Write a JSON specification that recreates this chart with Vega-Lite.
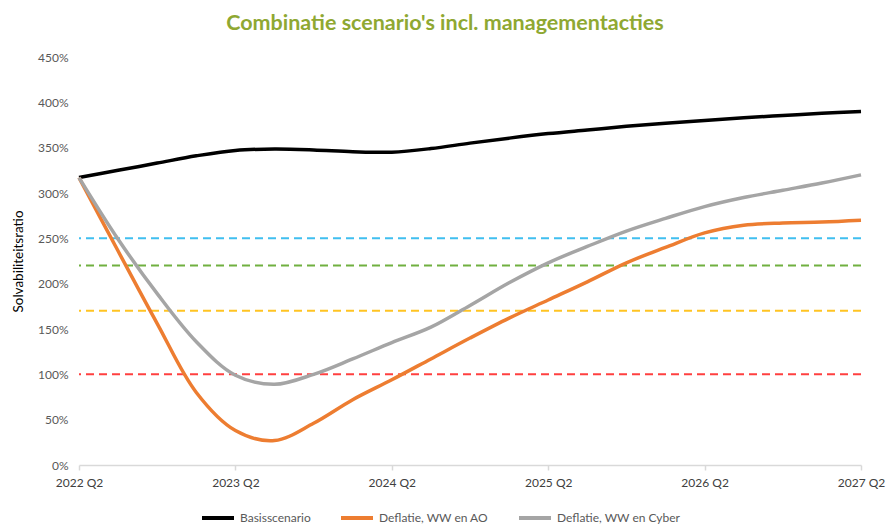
{
  "$schema": "https://vega.github.io/schema/vega-lite/v6.json",
  "width": 782,
  "height": 408,
  "autosize": {"type": "none"},
  "padding": {"left": 79, "top": 57, "right": 26, "bottom": 59},
  "background": "#ffffff",
  "config": {"view": {"stroke": null}, "font": "Lato"},
  "title": {
    "text": "Combinatie scenario's incl. managementacties",
    "font": "Lato",
    "fontSize": 21.5,
    "fontWeight": "bold",
    "color": "#8FA832",
    "anchor": "middle",
    "dx": -25,
    "offset": 17
  },
  "datasets": {
    "series": [
      {"q": 0, "serie": "Basisscenario", "ratio": 317},
      {"q": 1, "serie": "Basisscenario", "ratio": 325},
      {"q": 2, "serie": "Basisscenario", "ratio": 333},
      {"q": 3, "serie": "Basisscenario", "ratio": 341},
      {"q": 4, "serie": "Basisscenario", "ratio": 347},
      {"q": 5, "serie": "Basisscenario", "ratio": 348.5},
      {"q": 6, "serie": "Basisscenario", "ratio": 347.5},
      {"q": 7, "serie": "Basisscenario", "ratio": 345.5},
      {"q": 8, "serie": "Basisscenario", "ratio": 345},
      {"q": 9, "serie": "Basisscenario", "ratio": 349},
      {"q": 10, "serie": "Basisscenario", "ratio": 355},
      {"q": 11, "serie": "Basisscenario", "ratio": 360.5},
      {"q": 12, "serie": "Basisscenario", "ratio": 365.5},
      {"q": 13, "serie": "Basisscenario", "ratio": 369.5},
      {"q": 14, "serie": "Basisscenario", "ratio": 373.5},
      {"q": 15, "serie": "Basisscenario", "ratio": 377},
      {"q": 16, "serie": "Basisscenario", "ratio": 380},
      {"q": 17, "serie": "Basisscenario", "ratio": 383},
      {"q": 18, "serie": "Basisscenario", "ratio": 385.5},
      {"q": 19, "serie": "Basisscenario", "ratio": 388},
      {"q": 20, "serie": "Basisscenario", "ratio": 390},
      {"q": 0, "serie": "Deflatie, WW en AO", "ratio": 317},
      {"q": 1, "serie": "Deflatie, WW en AO", "ratio": 236},
      {"q": 2, "serie": "Deflatie, WW en AO", "ratio": 156},
      {"q": 3, "serie": "Deflatie, WW en AO", "ratio": 80},
      {"q": 4, "serie": "Deflatie, WW en AO", "ratio": 38},
      {"q": 5, "serie": "Deflatie, WW en AO", "ratio": 27},
      {"q": 6, "serie": "Deflatie, WW en AO", "ratio": 46},
      {"q": 7, "serie": "Deflatie, WW en AO", "ratio": 72},
      {"q": 8, "serie": "Deflatie, WW en AO", "ratio": 94},
      {"q": 9, "serie": "Deflatie, WW en AO", "ratio": 117},
      {"q": 10, "serie": "Deflatie, WW en AO", "ratio": 140},
      {"q": 11, "serie": "Deflatie, WW en AO", "ratio": 162},
      {"q": 12, "serie": "Deflatie, WW en AO", "ratio": 182},
      {"q": 13, "serie": "Deflatie, WW en AO", "ratio": 202},
      {"q": 14, "serie": "Deflatie, WW en AO", "ratio": 223},
      {"q": 15, "serie": "Deflatie, WW en AO", "ratio": 240},
      {"q": 16, "serie": "Deflatie, WW en AO", "ratio": 256},
      {"q": 17, "serie": "Deflatie, WW en AO", "ratio": 264.5},
      {"q": 18, "serie": "Deflatie, WW en AO", "ratio": 267},
      {"q": 19, "serie": "Deflatie, WW en AO", "ratio": 268},
      {"q": 20, "serie": "Deflatie, WW en AO", "ratio": 270},
      {"q": 0, "serie": "Deflatie, WW en Cyber", "ratio": 317},
      {"q": 1, "serie": "Deflatie, WW en Cyber", "ratio": 249},
      {"q": 2, "serie": "Deflatie, WW en Cyber", "ratio": 189},
      {"q": 3, "serie": "Deflatie, WW en Cyber", "ratio": 136},
      {"q": 4, "serie": "Deflatie, WW en Cyber", "ratio": 99},
      {"q": 5, "serie": "Deflatie, WW en Cyber", "ratio": 89},
      {"q": 6, "serie": "Deflatie, WW en Cyber", "ratio": 100},
      {"q": 7, "serie": "Deflatie, WW en Cyber", "ratio": 117},
      {"q": 8, "serie": "Deflatie, WW en Cyber", "ratio": 135},
      {"q": 9, "serie": "Deflatie, WW en Cyber", "ratio": 152},
      {"q": 10, "serie": "Deflatie, WW en Cyber", "ratio": 176},
      {"q": 11, "serie": "Deflatie, WW en Cyber", "ratio": 201},
      {"q": 12, "serie": "Deflatie, WW en Cyber", "ratio": 223},
      {"q": 13, "serie": "Deflatie, WW en Cyber", "ratio": 241},
      {"q": 14, "serie": "Deflatie, WW en Cyber", "ratio": 258},
      {"q": 15, "serie": "Deflatie, WW en Cyber", "ratio": 272},
      {"q": 16, "serie": "Deflatie, WW en Cyber", "ratio": 285},
      {"q": 17, "serie": "Deflatie, WW en Cyber", "ratio": 295},
      {"q": 18, "serie": "Deflatie, WW en Cyber", "ratio": 303},
      {"q": 19, "serie": "Deflatie, WW en Cyber", "ratio": 311},
      {"q": 20, "serie": "Deflatie, WW en Cyber", "ratio": 320}
    ],
    "drempels": [
      {"ratio": 250},
      {"ratio": 220},
      {"ratio": 170},
      {"ratio": 100}
    ]
  },
  "layer": [
    {
      "data": {"name": "drempels"},
      "mark": {"type": "rule", "strokeDash": [8, 5], "strokeWidth": 2},
      "encoding": {
        "y": {
          "field": "ratio",
          "type": "quantitative",
          "scale": {"domain": [0, 450], "nice": false},
          "axis": {
            "title": "Solvabiliteitsratio",
            "values": [0, 50, 100, 150, 200, 250, 300, 350, 400, 450],
            "labelExpr": "datum.value + '%'",
            "domain": false,
            "ticks": false,
            "grid": false,
            "labelFont": "Lato",
            "labelFontSize": 12,
            "labelColor": "#595959",
            "labelPadding": 11,
            "titleFont": "Lato",
            "titleFontSize": 13.5,
            "titleFontWeight": "normal",
            "titleColor": "#000000",
            "titlePadding": 12
          }
        },
        "stroke": {
          "field": "ratio",
          "type": "nominal",
          "scale": {
            "domain": [100, 170, 220, 250],
            "range": ["#FF4040", "#FFC423", "#70B040", "#40BFF0"]
          },
          "legend": null
        }
      }
    },
    {
      "data": {"name": "series"},
      "mark": {"type": "line", "interpolate": "catmull-rom", "strokeWidth": 3.5},
      "encoding": {
        "x": {
          "field": "q",
          "type": "quantitative",
          "scale": {"domain": [0, 20], "nice": false},
          "axis": {
            "title": null,
            "values": [0, 4, 8, 12, 16, 20],
            "labelExpr": "(2022 + datum.value / 4) + ' Q2'",
            "domainColor": "#D9D9D9",
            "domainWidth": 1.5,
            "tickColor": "#D9D9D9",
            "tickWidth": 1.5,
            "tickSize": 5,
            "grid": false,
            "labelFont": "Lato",
            "labelFontSize": 12,
            "labelColor": "#404040",
            "labelPadding": 7,
            "labelFlush": false
          }
        },
        "y": {
          "field": "ratio",
          "type": "quantitative",
          "scale": {"domain": [0, 450], "nice": false},
          "axis": {
            "title": "Solvabiliteitsratio",
            "values": [0, 50, 100, 150, 200, 250, 300, 350, 400, 450],
            "labelExpr": "datum.value + '%'",
            "domain": false,
            "ticks": false,
            "grid": false,
            "labelFont": "Lato",
            "labelFontSize": 12,
            "labelColor": "#595959",
            "labelPadding": 11,
            "titleFont": "Lato",
            "titleFontSize": 13.5,
            "titleFontWeight": "normal",
            "titleColor": "#000000",
            "titlePadding": 12
          }
        },
        "color": {
          "field": "serie",
          "type": "nominal",
          "scale": {
            "domain": ["Basisscenario", "Deflatie, WW en AO", "Deflatie, WW en Cyber"],
            "range": ["#000000", "#ED7D31", "#A5A5A5"]
          },
          "legend": {
            "title": null,
            "orient": "none",
            "legendX": 121,
            "legendY": 443,
            "padding": 0,
            "direction": "horizontal",
            "symbolType": "stroke",
            "symbolSize": 1024,
            "symbolStrokeWidth": 4,
            "labelFont": "Lato",
            "labelFontSize": 12,
            "labelColor": "#595959",
            "labelOffset": 4,
            "columnPadding": 22
          }
        }
      }
    }
  ]
}
